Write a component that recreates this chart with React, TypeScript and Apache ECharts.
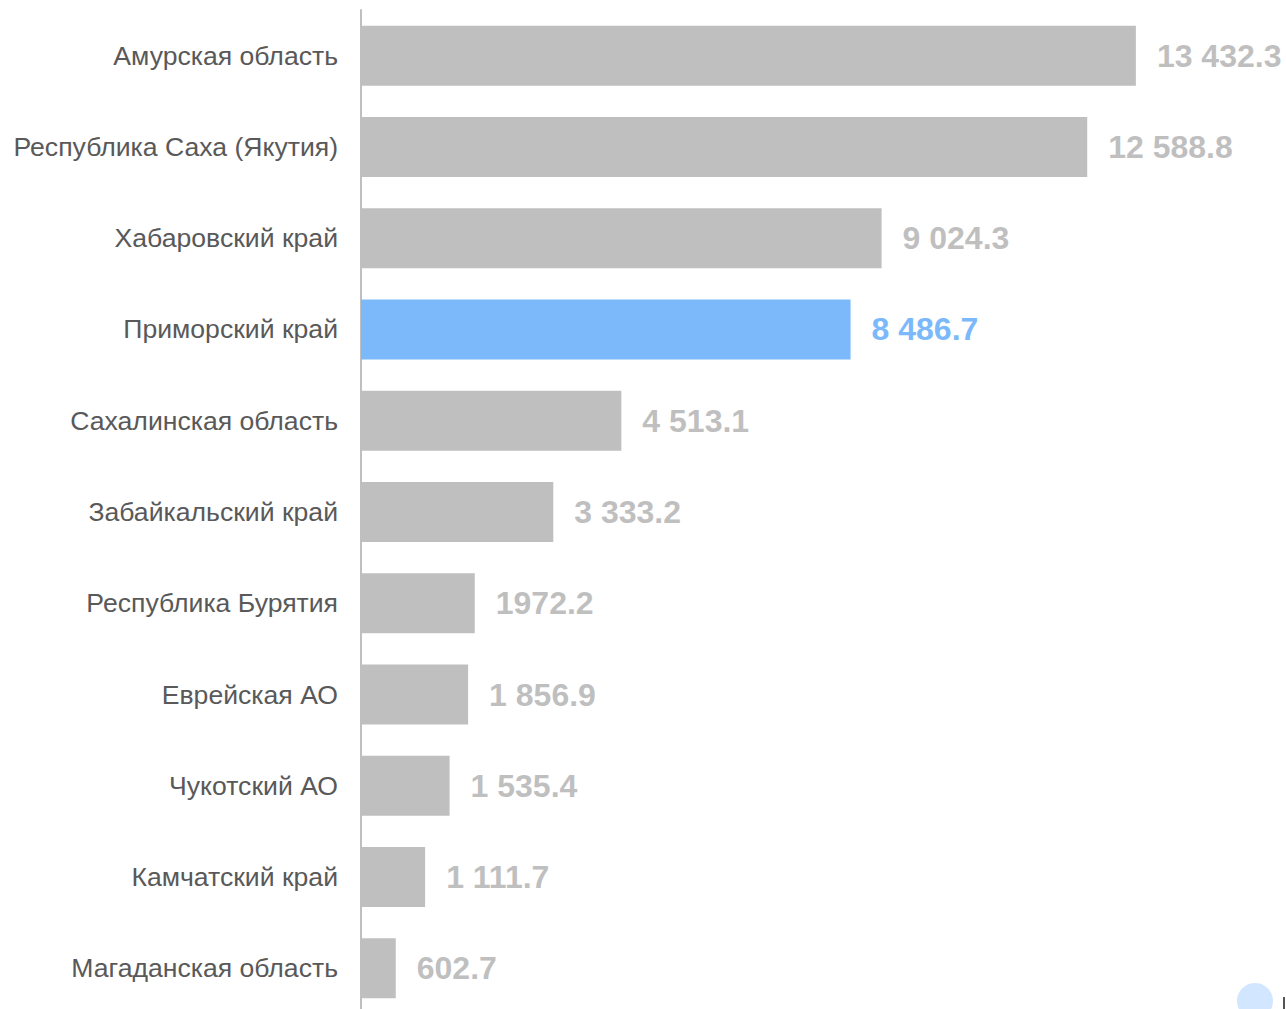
import React, { useEffect, useRef } from "react";
import * as echarts from "echarts";

const categories = [
  "Амурская область",
  "Республика Саха (Якутия)",
  "Хабаровский край",
  "Приморский край",
  "Сахалинская область",
  "Забайкальский край",
  "Республика Бурятия",
  "Еврейская АО",
  "Чукотский АО",
  "Камчатский край",
  "Магаданская область",
];
const values = [13432.3, 12588.8, 9024.3, 8486.7, 4513.1, 3333.2, 1972.2, 1856.9, 1535.4, 1111.7, 602.7];
const valueLabels = ["13 432.3", "12 588.8", "9 024.3", "8 486.7", "4 513.1", "3 333.2", "1972.2", "1 856.9", "1 535.4", "1 111.7", "602.7"];
const highlighted = "Приморский край";

const GREY = "#bfbfbf";
const BLUE = "#7cb9fa";

export default function App() {
  const ref = useRef<HTMLDivElement>(null);
  useEffect(() => {
    document.body.style.margin = "0";
    document.body.style.overflow = "hidden";
    const chart = echarts.init(ref.current!, undefined, { renderer: "svg" });
    chart.setOption({
      animation: false,
      grid: { left: 361, right: 2, top: 10, bottom: 0, containLabel: false },
      xAxis: {
        type: "value",
        min: 0,
        max: 16000,
        show: false,
      },
      yAxis: {
        type: "category",
        inverse: true,
        data: categories,
        axisLine: { show: true, lineStyle: { color: GREY, width: 2 } },
        axisTick: { show: false },
        axisLabel: {
          color: "#595959",
          fontSize: 26.6,
          fontFamily: "Liberation Sans, Arial, sans-serif",
          margin: 23,
        },
      },
      series: [
        {
          type: "bar",
          barWidth: 60,
          data: values.map((v, i) => {
            const hi = categories[i] === highlighted;
            return {
              value: v,
              itemStyle: { color: hi ? BLUE : GREY },
              label: { color: hi ? BLUE : GREY },
            };
          }),
          label: {
            show: true,
            position: "right",
            distance: 21,
            fontSize: 32,
            fontWeight: "bold",
            fontFamily: "Liberation Sans, Arial, sans-serif",
            formatter: (p: any) => valueLabels[p.dataIndex],
          },
        },
      ],
      graphic: [
        { type: "circle", shape: { cx: 1255, cy: 1001, r: 18 }, style: { fill: "#d2e7ff" } },
        { type: "rect", shape: { x: 1283, y: 997, width: 2, height: 17 }, style: { fill: "#555" } },
      ],
    });
    return () => chart.dispose();
  }, []);
  return <div ref={ref} style={{ width: 1286, height: 1014 }} />;
}
